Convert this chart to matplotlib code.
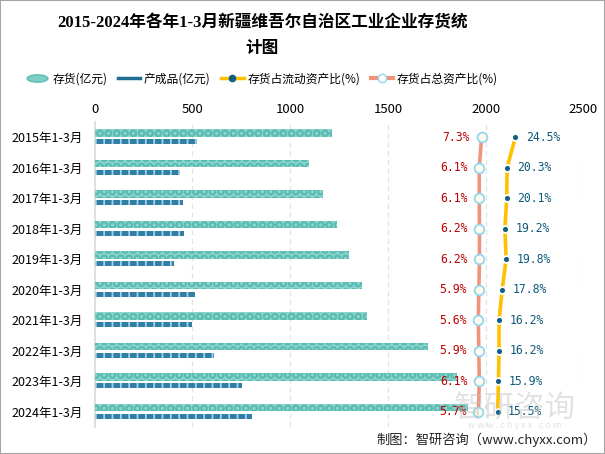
import matplotlib
matplotlib.use("Agg")
import matplotlib.pyplot as plt
from matplotlib.lines import Line2D
from matplotlib.path import Path
from matplotlib.transforms import Affine2D
import matplotlib.patches as mpatches

plt.rcParams['font.family'] = ['Noto Sans CJK SC', 'DejaVu Sans']
plt.rcParams['hatch.linewidth'] = 1.3

categories = ["2015年1-3月", "2016年1-3月", "2017年1-3月", "2018年1-3月", "2019年1-3月",
              "2020年1-3月", "2021年1-3月", "2022年1-3月", "2023年1-3月", "2024年1-3月"]
inventory = [1213, 1095, 1167, 1238, 1302, 1370, 1394, 1706, 1852, 1910]
finished = [522, 435, 450, 456, 407, 513, 498, 609, 752, 803]
ratio_current = [24.5, 20.3, 20.1, 19.2, 19.8, 17.8, 16.2, 16.2, 15.9, 15.5]
ratio_total = [7.3, 6.1, 6.1, 6.2, 6.2, 5.9, 5.6, 5.9, 6.1, 5.7]
x_ticks = [0, 500, 1000, 1500, 2000, 2500]

W, H = 605, 454
fig = plt.figure(figsize=(W / 100, H / 100), dpi=100)
fig.patches.append(mpatches.Rectangle((0, 0), 1, 1, transform=fig.transFigure,
                                      fill=False, edgecolor='#a6a6a6', lw=1.5))

left, right, top, bottom = 94.7, 583.3, 122, 427
ax = fig.add_axes([left / W, 1 - bottom / H, (right - left) / W, (bottom - top) / H])
ax2 = ax.twiny()
ypos = list(range(len(categories)))

teal_off = -4.2 / 30.5
prod_off = 4.6 / 30.5
ax.barh([y + teal_off for y in ypos], inventory, height=7.5 / 30.5,
        color='#8ad6ce', edgecolor='#5cbcb2', hatch='OO', linewidth=0, zorder=3)
ax.barh([y + prod_off for y in ypos], finished, height=5 / 30.5,
        color='#2f7fa6', edgecolor='#a8d0e2', hatch='||', linewidth=0, zorder=3)

ax.set_xlim(0, 2500)
ax.set_ylim(9.5, -0.5)
ax.set_yticks(ypos)
ax.set_yticklabels(categories, fontsize=9)
ax.set_xticks(x_ticks)
ax.set_xticklabels([str(v) for v in x_ticks], fontsize=9.5)
ax.xaxis.tick_top()
ax.xaxis.set_label_position('top')
ax.tick_params(axis='both', length=0)
ax.tick_params(axis='y', pad=8.5)
ax.tick_params(axis='x', pad=4)
for s in ['top', 'right', 'bottom']:
    ax.spines[s].set_visible(False)
ax.spines['left'].set_color('#d9d9d9')
ax.spines['left'].set_linewidth(1.2)
for v in x_ticks[1:]:
    ax.axvline(v, color='#e3e3e3', lw=0.9, ls=(0, (4, 3)), zorder=1)

zero_px, px_per = 467.3, 1.96
ax2.set_xlim((left - zero_px) / px_per, (right - zero_px) / px_per)
ax2.set_ylim(9.5, -0.5)
ax2.set_xticks([])
for s in ax2.spines.values():
    s.set_visible(False)

ax2.plot(ratio_total, ypos, color='#f0937c', lw=2.6, marker='o', ms=7,
         mfc='#fffbea', mec='#93d6f0', mew=1.3, zorder=5)
ax2.plot(ratio_current, ypos, color='#ffc000', lw=2.6, marker='o', ms=5,
         mfc='#135f82', mec='white', mew=1.3, zorder=5)

for y, v in zip(ypos, ratio_total):
    ax2.annotate(f"{v:.1f}%", (v, y), xytext=(-8.5, 0), textcoords='offset points',
                 ha='right', va='center', fontsize=8.3, color='#c00000',
                 family='DejaVu Sans Mono', zorder=6)
for y, v in zip(ypos, ratio_current):
    ax2.annotate(f"{v:.1f}%", (v, y), xytext=(7.5, 0), textcoords='offset points',
                 ha='left', va='center', fontsize=8.3, color='#0e5a7a',
                 family='DejaVu Sans Mono', zorder=6)

# title
fig.text(262 / W, 1 - 36 / H, "2015-2024年各年1-3月新疆维吾尔自治区工业企业存货统\n计图",
         ha='center', va='center', fontsize=12, fontweight='bold',
         family=['Liberation Serif', 'Noto Sans CJK SC'], linespacing=1.75)

# legend
ell = Path.unit_circle().transformed(Affine2D().scale(1, 0.35))
handles = [
    Line2D([], [], ls='none', marker=ell, ms=15, mfc='#7fcfc6', mec='#5cbcb2'),
    Line2D([], [], color='#1f6e93', lw=2.5),
    Line2D([], [], color='#ffc000', lw=2.5, marker='o', ms=4.5, mfc='#135f82', mec='#135f82'),
    Line2D([], [], color='#f0937c', lw=3, marker='o', ms=6, mfc='white', mec='#93d6f0'),
]
labels = ["存货(亿元)", "产成品(亿元)", "存货占流动资产比(%)", "存货占总资产比(%)"]
fig.legend(handles, labels, loc='center', bbox_to_anchor=(262 / W, 1 - 79 / H), ncol=4,
           frameon=False, fontsize=8.5, handlelength=1.9, handletextpad=0.3,
           columnspacing=0.9)

# watermark
fig.text(515 / W, 1 - 408 / H, "智研咨询", ha='center', va='center', fontsize=22,
         color='#c0c0c0', alpha=0.45, zorder=10)
fig.text(515 / W, 1 - 426 / H, "w w w . c h y x x . c o m", ha='center', va='center',
         fontsize=6.5, color='#c0c0c0', alpha=0.45, zorder=10)

fig.text(597 / W, 1 - 440 / H, "制图：智研咨询（www.chyxx.com）", ha='right', va='center',
         fontsize=9.5, color='#222222')

fig.savefig("out.png", dpi=100)
